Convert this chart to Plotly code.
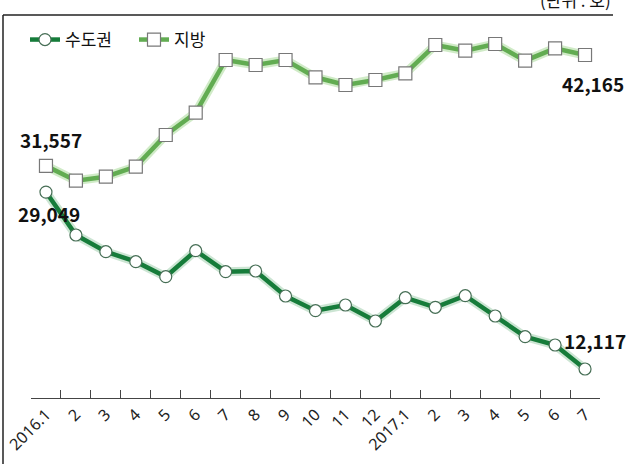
import plotly.graph_objects as go

categories = ["2016.1", "2016.2", "2016.3", "2016.4", "2016.5", "2016.6", "2016.7",
              "2016.8", "2016.9", "2016.10", "2016.11", "2016.12", "2017.1", "2017.2",
              "2017.3", "2017.4", "2017.5", "2017.6", "2017.7"]
tick_labels = ["2016.1", "2", "3", "4", "5", "6", "7", "8", "9", "10", "11", "12",
               "2017.1", "2", "3", "4", "5", "6", "7"]
capital = [29049, 24941, 23343, 22386, 20950, 23438, 21429, 21496, 19103, 17696,
           18242, 16711, 18940, 18022, 19132, 17189, 15208, 14414, 12117]
regional = [31557, 30137, 30520, 31480, 34511, 36645, 41688, 41210, 41690, 40033,
            39296, 39774, 40415, 43124, 42578, 43220, 41621, 42808, 42165]
series_names = ["수도권", "지방"]
unit_text = "(단위 : 호)"

W, H = 627, 464
# target plot box in page pixels: x 31..600, y 20..398
PL, PR, PT, PB = 31, 600, 20, 398
ML, MT = PL, PT
MR, MB = W - PR, H - PB
PW, PH = PR - PL, PB - PT

def px2x(px):
    return (px - PL) / PW

def py2y(py):
    return (PB - py) / PH

dark = "rgb(22,124,58)"
light = "rgb(98,172,82)"

fig = go.Figure()
# soft glow under lines
fig.add_trace(go.Scatter(x=categories, y=regional, mode="lines",
                         line=dict(color="rgba(150,210,130,0.45)", width=9),
                         showlegend=False, hoverinfo="skip"))
fig.add_trace(go.Scatter(x=categories, y=capital, mode="lines",
                         line=dict(color="rgba(110,180,130,0.35)", width=9),
                         showlegend=False, hoverinfo="skip"))
fig.add_trace(go.Scatter(x=categories, y=capital, mode="lines+markers", name=series_names[0],
                         line=dict(color=dark, width=4.5),
                         marker=dict(symbol="circle", size=12, color="white",
                                     line=dict(color="rgb(70,110,85)", width=1.2))))
fig.add_trace(go.Scatter(x=categories, y=regional, mode="lines+markers", name=series_names[1],
                         line=dict(color=light, width=4.5),
                         marker=dict(symbol="square", size=13, color="white",
                                     line=dict(color="rgb(120,120,120)", width=1.2))))

lab_font = dict(family="Noto Sans CJK KR", size=19, color="#111111", weight="bold")
first, last = 0, len(categories) - 1
annos = [
    dict(x=first, y=regional[first], text=f"{regional[first]:,}", xshift=5, yshift=26),
    dict(x=first, y=capital[first], text=f"{capital[first]:,}", xshift=3, yshift=-21),
    dict(x=last, y=regional[last], text=f"{regional[last]:,}", xshift=8, yshift=-28),
]
for a in annos:
    fig.add_annotation(xref="x", yref="y", showarrow=False, font=lab_font,
                       xanchor="center", yanchor="middle", **a)
fig.add_annotation(xref="x", yref="y", x=last, y=capital[last],
                   text=f"{capital[last]:,}", showarrow=False, font=lab_font,
                   xanchor="left", yanchor="middle", xshift=-23, yshift=29)

fig.add_annotation(xref="paper", yref="paper", x=px2x(613), y=py2y(14),
                   text=unit_text, showarrow=False, xanchor="right", yanchor="bottom",
                   font=dict(family="Noto Sans CJK KR", size=17, color="#111111"))

# frame lines
fig.add_shape(type="line", xref="paper", yref="paper", x0=px2x(3), x1=px2x(3),
              y0=py2y(15), y1=py2y(470), line=dict(color="#222222", width=1.5))
fig.add_shape(type="line", xref="paper", yref="paper", x0=px2x(3), x1=px2x(613),
              y0=py2y(15), y1=py2y(15), line=dict(color="#222222", width=1.5))

fig.update_xaxes(type="category", categoryorder="array", categoryarray=categories,
                 tickmode="array", tickvals=categories, ticktext=tick_labels,
                 tickson="boundaries", ticks="inside", ticklen=8, tickcolor="#444444",
                 showline=True, linecolor="#444444", linewidth=1, showgrid=False,
                 tickangle=-45, tickfont=dict(family="Noto Sans", size=16, color="#222222"),
                 range=[-0.5, 18.5], zeroline=False, automargin=False)
fig.update_yaxes(range=[9342, 45516], visible=False, showgrid=False, zeroline=False,
                 automargin=False)

fig.update_layout(
    width=W, height=H,
    margin=dict(l=ML, r=MR, t=MT, b=MB, autoexpand=False),
    paper_bgcolor="white", plot_bgcolor="white",
    showlegend=True,
    legend=dict(orientation="h", xref="paper", yref="paper",
                x=px2x(25), y=py2y(22), xanchor="left", yanchor="top",
                font=dict(family="Noto Sans CJK KR", size=17, color="#111111"),
                bgcolor="rgba(0,0,0,0)", itemwidth=30, tracegroupgap=0,
                entrywidth=64, entrywidthmode="pixels"),
)

fig.write_html("out.html", config={"displayModeBar": False},
               post_script="document.body.style.margin='0px';")
